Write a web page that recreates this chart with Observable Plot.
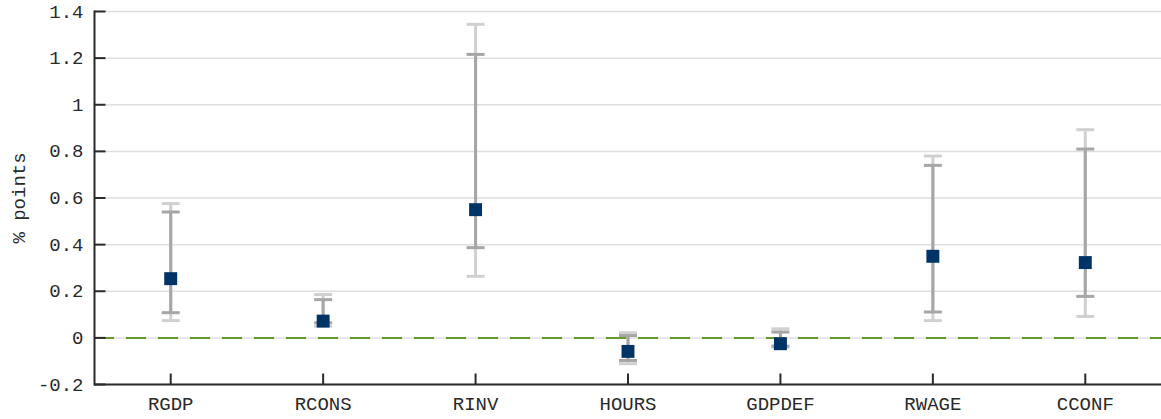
<!DOCTYPE html>
<html>
<head>
<meta charset="utf-8">
<script src="https://cdn.jsdelivr.net/npm/d3@7"></script>
<script src="https://cdn.jsdelivr.net/npm/@observablehq/plot@0.6"></script>
<style>
  html, body { margin: 0; padding: 0; background: #ffffff; }
  #chart svg { display: block; }
</style>
</head>
<body>
<div id="chart"></div>
<script>
// ---- data ----
const categories = ["RGDP", "RCONS", "RINV", "HOURS", "GDPDEF", "RWAGE", "CCONF"];
const median   = [0.254, 0.072, 0.550, -0.058, -0.025, 0.350, 0.323];
const innerLow = [0.108, 0.065, 0.387, -0.097, -0.035, 0.111, 0.178];
const innerHigh= [0.540, 0.164, 1.216,  0.010,  0.025, 0.740, 0.810];
const outerLow = [0.074, 0.050, 0.264, -0.111, -0.040, 0.074, 0.092];
const outerHigh= [0.576, 0.186, 1.345,  0.022,  0.039, 0.780, 0.893];
const yTicks = [-0.2, 0, 0.2, 0.4, 0.6, 0.8, 1, 1.2, 1.4];
const yTickLabels = ["-0.2", "0", "0.2", "0.4", "0.6", "0.8", "1", "1.2", "1.4"];
const yLabel = "% points";

// ---- table built from the arrays ----
const rows = categories.map((c, i) => ({
  cat: c, med: median[i],
  ilo: innerLow[i], ihi: innerHigh[i],
  olo: outerLow[i], ohi: outerHigh[i]
}));

const ink = "#2a2a2a";
const capSymbol = {draw(ctx) { ctx.moveTo(-9, 0); ctx.lineTo(9, 0); }};
const tickRight = {draw(ctx) { ctx.moveTo(0, 0); ctx.lineTo(11, 0); }};
const tickUp = {draw(ctx) { ctx.moveTo(0, 0); ctx.lineTo(0, -11); }};

const chart = Plot.plot({
  width: 1161,
  height: 419,
  marginLeft: 94,
  marginRight: 0,
  marginTop: 11,
  marginBottom: 35,
  style: {fontFamily: "'Liberation Mono', 'DejaVu Sans Mono', monospace", fontSize: "19px", color: ink, background: "#ffffff"},
  x: {type: "point", domain: categories, padding: 0.5, round: false},
  y: {domain: [-0.2, 1.4]},
  marks: [
    Plot.ruleY(yTicks, {y: d => d, stroke: "#dedede", strokeWidth: 1.5}),
    Plot.ruleY([0], {y: d => d, stroke: "#679a2a", strokeWidth: 2, strokeDasharray: "20,12"}),
    // outer band
    Plot.ruleX(rows, {x: "cat", y1: "olo", y2: "ohi", stroke: "#d0d0d0", strokeWidth: 3}),
    Plot.dot(rows, {x: "cat", y: "olo", symbol: capSymbol, stroke: "#d0d0d0", strokeWidth: 3, fill: "none"}),
    Plot.dot(rows, {x: "cat", y: "ohi", symbol: capSymbol, stroke: "#d0d0d0", strokeWidth: 3, fill: "none"}),
    // inner band
    Plot.ruleX(rows, {x: "cat", y1: "ilo", y2: "ihi", stroke: "#a6a6a6", strokeWidth: 3}),
    Plot.dot(rows, {x: "cat", y: "ilo", symbol: capSymbol, stroke: "#a6a6a6", strokeWidth: 3, fill: "none"}),
    Plot.dot(rows, {x: "cat", y: "ihi", symbol: capSymbol, stroke: "#a6a6a6", strokeWidth: 3, fill: "none"}),
    // median squares
    Plot.dot(rows, {x: "cat", y: "med", symbol: "square", r: 7.3, fill: "#003366", stroke: "none"}),
    // axes
    Plot.axisY({ticks: yTicks, tickFormat: (d) => yTickLabels[yTicks.indexOf(d)], tickSize: 0, tickPadding: 11, label: null}),
    Plot.axisX({tickSize: 0, tickPadding: 12, label: null}),
    Plot.dot(yTicks, {y: d => d, frameAnchor: "left", symbol: tickRight, stroke: ink, strokeWidth: 2, fill: "none"}),
    Plot.dot(categories, {x: d => d, frameAnchor: "bottom", symbol: tickUp, stroke: ink, strokeWidth: 2, fill: "none"}),
    Plot.ruleY([-0.2], {y: d => d, stroke: ink, strokeWidth: 2}),
    Plot.frame({anchor: "left", stroke: ink, strokeWidth: 2}),
    Plot.text([yLabel], {text: d => d, frameAnchor: "left", textAnchor: "middle", lineAnchor: "middle", dx: -76, rotate: -90, fill: ink, fontSize: 19})
  ]
});
document.getElementById("chart").appendChild(chart);
</script>
</body>
</html>
